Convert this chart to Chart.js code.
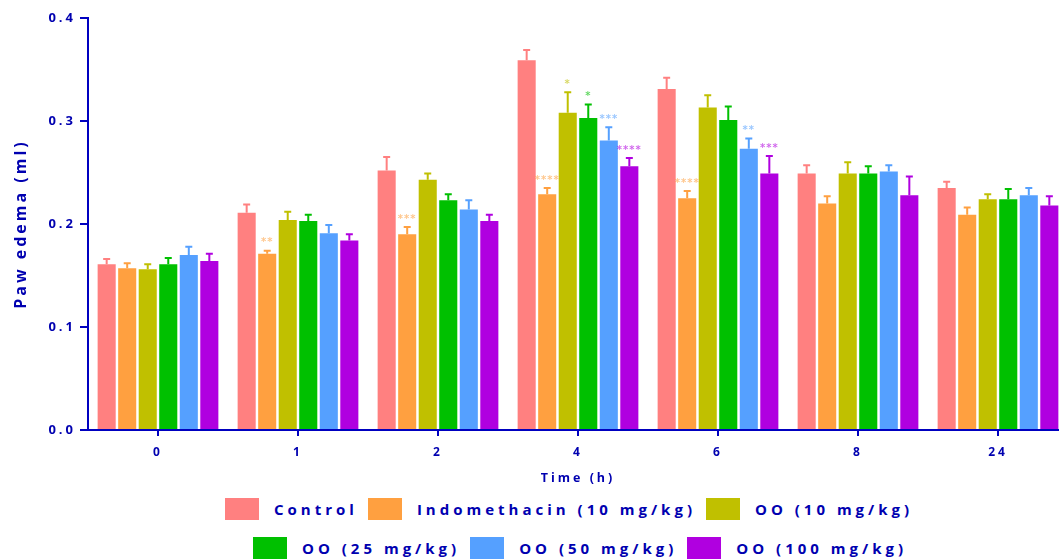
<!DOCTYPE html>
<html>
<head>
<meta charset="utf-8">
<script src="https://cdn.jsdelivr.net/npm/chart.js@4/dist/chart.umd.min.js"></script>
<style>
  html, body { margin: 0; padding: 0; background: #fff; overflow: hidden; width: 1059px; height: 560px; }
  #wrap { position: absolute; left: 0; top: 0; width: 1068px; height: 490px; }
  .row { position: absolute; display: flex; align-items: center; font-family: "Open Sans", sans-serif;
         font-weight: bold; font-size: 15px; letter-spacing: 4px; color: #0000b0; white-space: nowrap; }
  .box { width: 34px; height: 22px; margin-right: 15px; }
  .item { display: flex; align-items: center; margin-right: 10px; }
</style>
</head>
<body>
<div id="wrap"><canvas id="chart"></canvas></div>
<div class="row" id="row1" style="left:225px; top:498px;"></div>
<div class="row" id="row2" style="left:253px; top:537px;"></div>
<script>
// Time points (h)
const times = ["0", "1", "2", "4", "6", "8", "24"];
const yTicks = [0, 0.1, 0.2, 0.3, 0.4];

const groups = ["Control", "Indomethacin (10 mg/kg)", "OO (10 mg/kg)", "OO (25 mg/kg)", "OO (50 mg/kg)", "OO (100 mg/kg)"];
const colors = ["#ff8080", "#ffa040", "#c0c000", "#00c000", "#55a0ff", "#b000e0"];

// mean paw edema (ml)
const control = [0.161, 0.211, 0.252, 0.359, 0.331, 0.249, 0.235];
const indometh = [0.157, 0.171, 0.190, 0.229, 0.225, 0.220, 0.209];
const oo10 = [0.156, 0.204, 0.243, 0.308, 0.313, 0.249, 0.224];
const oo25 = [0.161, 0.203, 0.223, 0.303, 0.301, 0.249, 0.224];
const oo50 = [0.170, 0.191, 0.214, 0.281, 0.273, 0.251, 0.228];
const oo100 = [0.164, 0.184, 0.203, 0.256, 0.249, 0.228, 0.218];

// SEM
const controlSem = [0.005, 0.008, 0.013, 0.010, 0.011, 0.008, 0.006];
const indomethSem = [0.005, 0.003, 0.007, 0.006, 0.007, 0.007, 0.007];
const oo10Sem = [0.005, 0.008, 0.006, 0.020, 0.012, 0.011, 0.005];
const oo25Sem = [0.006, 0.006, 0.006, 0.013, 0.013, 0.007, 0.010];
const oo50Sem = [0.008, 0.008, 0.009, 0.013, 0.010, 0.006, 0.007];
const oo100Sem = [0.007, 0.006, 0.006, 0.008, 0.017, 0.018, 0.009];

// significance marks
const controlSig = ["", "", "", "", "", "", ""];
const indomethSig = ["", "**", "***", "****", "****", "", ""];
const oo10Sig = ["", "", "", "*", "", "", ""];
const oo25Sig = ["", "", "", "*", "", "", ""];
const oo50Sig = ["", "", "", "***", "**", "", ""];
const oo100Sig = ["", "", "", "****", "***", "", ""];

const values = [control, indometh, oo10, oo25, oo50, oo100];
const sems = [controlSem, indomethSem, oo10Sem, oo25Sem, oo50Sem, oo100Sem];
const sigs = [controlSig, indomethSig, oo10Sig, oo25Sig, oo50Sig, oo100Sig];

const axisColor = "#0000c0";
const textColor = "#0000b0";

// canvas letter spacing (reset whenever the canvas is resized)
const spacing = {
  id: "spacing",
  beforeLayout(chart) { chart.ctx.letterSpacing = "3px"; },
  beforeDraw(chart) { chart.ctx.letterSpacing = "3px"; }
};

// error bars (up only) + stars
const errorBars = {
  id: "errorBars",
  afterDatasetsDraw(chart) {
    const ctx = chart.ctx;
    const y = chart.scales.y;
    chart.data.datasets.forEach((ds, i) => {
      const meta = chart.getDatasetMeta(i);
      meta.data.forEach((bar, j) => {
        const top = y.getPixelForValue(ds.data[j] + sems[i][j]);
        ctx.save();
        ctx.strokeStyle = colors[i];
        ctx.lineWidth = 2;
        ctx.beginPath();
        ctx.moveTo(bar.x, bar.y);
        ctx.lineTo(bar.x, top);
        ctx.moveTo(bar.x - 3.5, top);
        ctx.lineTo(bar.x + 3.5, top);
        ctx.stroke();
        if (sigs[i][j]) {
          ctx.letterSpacing = "1px";
          ctx.globalAlpha = 0.6;
          ctx.fillStyle = colors[i];
          ctx.font = "bold 10px 'DejaVu Sans'";
          ctx.textAlign = "center";
          ctx.textBaseline = "middle";
          ctx.fillText(sigs[i][j], bar.x, top - 8);
        }
        ctx.restore();
      });
    });
  }
};

new Chart(document.getElementById("chart"), {
  type: "bar",
  data: {
    labels: times,
    datasets: groups.map((g, i) => ({
      label: g,
      data: values[i],
      backgroundColor: colors[i],
      borderWidth: 0,
      categoryPercentage: 0.88,
      barPercentage: 0.88
    }))
  },
  options: {
    responsive: true,
    maintainAspectRatio: false,
    animation: false,
    layout: { padding: { top: 18, left: 0, right: 0, bottom: 0 } },
    plugins: { legend: { display: false }, tooltip: { enabled: false } },
    scales: {
      x: {
        grid: { offset: false, drawOnChartArea: false, tickLength: 6, color: axisColor, lineWidth: 2 },
        border: { color: axisColor, width: 2 },
        ticks: { color: textColor, font: { family: "Open Sans", weight: "bold", size: 12 }, padding: 9 },
        title: { display: true, text: "Time (h)", color: textColor,
                 font: { family: "Open Sans", weight: "bold", size: 12.5 }, padding: { top: 4, bottom: 4 } },
        afterFit(scale) { scale.height = 60; }
      },
      y: {
        min: 0,
        max: 0.4,
        afterBuildTicks(scale) { scale.ticks = yTicks.map(v => ({ value: v })); },
        grid: { drawOnChartArea: false, tickLength: 8, color: axisColor, lineWidth: 2 },
        border: { color: axisColor, width: 2 },
        ticks: { color: textColor, font: { family: "Open Sans", weight: "bold", size: 13 }, padding: 4,
                 callback: v => v.toFixed(1) },
        title: { display: true, text: "Paw edema (ml)", color: textColor,
                 font: { family: "Open Sans", weight: "bold", size: 16 }, padding: { top: 12, bottom: 0 } },
        afterFit(scale) { scale.width = 88; }
      }
    }
  },
  plugins: [spacing, errorBars]
});

// legend
function addItem(rowId, i) {
  const item = document.createElement("div");
  item.className = "item";
  const box = document.createElement("div");
  box.className = "box";
  box.style.background = colors[i];
  const txt = document.createElement("span");
  txt.textContent = groups[i];
  item.appendChild(box);
  item.appendChild(txt);
  document.getElementById(rowId).appendChild(item);
}
[0, 1, 2].forEach(i => addItem("row1", i));
[3, 4, 5].forEach(i => addItem("row2", i));
</script>
</body>
</html>
